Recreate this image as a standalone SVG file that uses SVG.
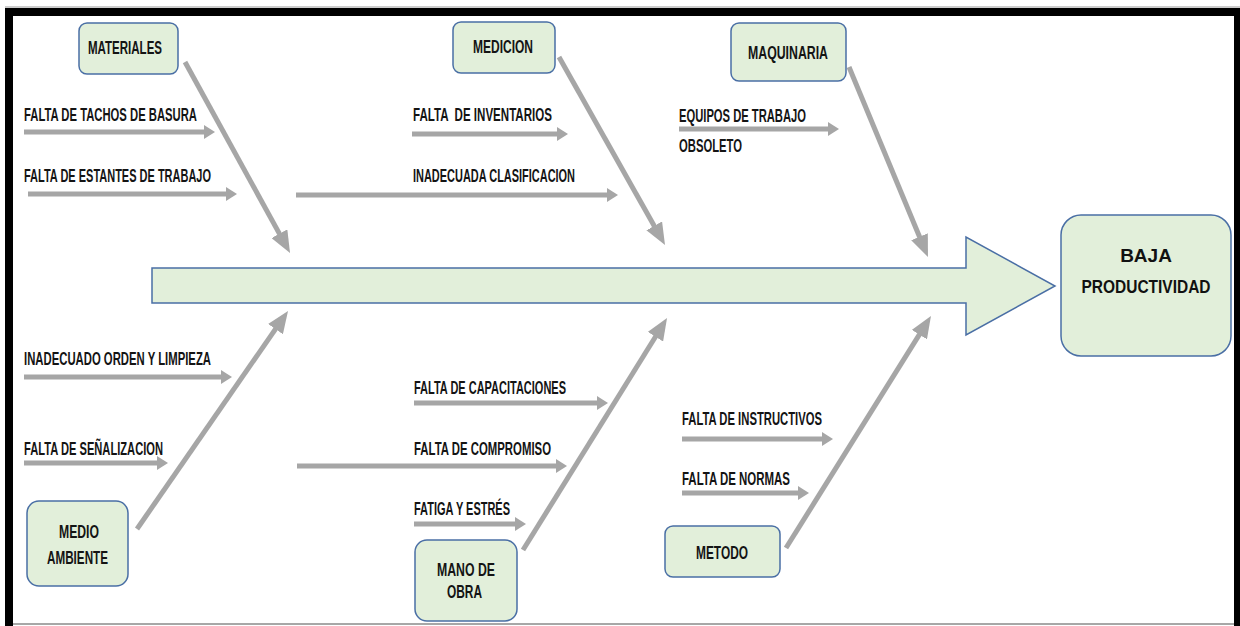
<svg xmlns="http://www.w3.org/2000/svg" width="1240" height="626" viewBox="0 0 1240 626">
  <style>
    .box { fill: #e2efda; stroke: #4a6fa5; stroke-width: 1.5; }
    .spine { fill: #e2efda; stroke: #4a6fa5; stroke-width: 1.5; stroke-linejoin: miter; }
    .bone { stroke: #a6a6a6; stroke-width: 5; fill: none; }
    .lbl { font-family: "Liberation Sans Narrow", "Liberation Sans", Arial, sans-serif; font-size: 19px; font-weight: bold; fill: #141414; }
    .cause { font-family: "Liberation Sans Narrow", "Liberation Sans", Arial, sans-serif; font-size: 19px; font-weight: bold; fill: #141414; }
    .effect { font-family: "Liberation Sans", Arial, sans-serif; font-size: 19px; font-weight: bold; fill: #111; }
  </style>
  <defs>
    <marker id="headBig" viewBox="0 0 22 18" refX="13" refY="9" markerWidth="22" markerHeight="18" markerUnits="userSpaceOnUse" orient="auto">
      <path d="M0,0 L22,9 L0,18 z" fill="#a6a6a6"/>
    </marker>
    <marker id="headSmall" viewBox="0 0 11 14" refX="6" refY="7" markerWidth="11" markerHeight="14" markerUnits="userSpaceOnUse" orient="auto">
      <path d="M0,0 L11,7 L0,14 z" fill="#a6a6a6"/>
    </marker>
  </defs>

  <!-- page background and frame -->
  <rect x="0" y="0" width="1240" height="626" fill="#ffffff"/>
  <g id="frame">
    <line x1="5" y1="7" x2="1240" y2="7" stroke="#9a9a9a" stroke-width="1"/>
    <rect x="5" y="8" width="1235" height="8" fill="#000"/>
    <rect x="5" y="8" width="8" height="618" fill="#000"/>
    <rect x="1234" y="8" width="6" height="618" fill="#000"/>
    <line x1="13" y1="624" x2="1234" y2="624" stroke="#8a8a8a" stroke-width="1.5"/>
  </g>

  <!-- main spine -->
  <g id="spine">
    <polygon class="spine" points="152,268 966,268 966,237 1055,286 966,335 966,303 152,303"/>
  </g>

  <!-- connectors: category bones and cause arrows -->
  <g id="connectors">
    <line class="bone" x1="185" y1="62" x2="285.7" y2="245.1" marker-end="url(#headBig)"/>
    <line class="bone" x1="559" y1="57" x2="660.6" y2="237.2" marker-end="url(#headBig)"/>
    <line class="bone" x1="849" y1="67" x2="924.5" y2="248.7" marker-end="url(#headBig)"/>
    <line class="bone" x1="137" y1="529" x2="282.9" y2="318.4" marker-end="url(#headBig)"/>
    <line class="bone" x1="523" y1="550" x2="662.3" y2="325.7" marker-end="url(#headBig)"/>
    <line class="bone" x1="786" y1="548" x2="926.2" y2="323.6" marker-end="url(#headBig)"/>

    <line class="bone" x1="24" y1="132" x2="210" y2="132" marker-end="url(#headSmall)"/>
    <line class="bone" x1="28" y1="194" x2="232" y2="194" marker-end="url(#headSmall)"/>
    <line class="bone" x1="412" y1="134" x2="563" y2="134" marker-end="url(#headSmall)"/>
    <line class="bone" x1="296" y1="195" x2="613" y2="195" marker-end="url(#headSmall)"/>
    <line class="bone" x1="679" y1="129" x2="834" y2="129" marker-end="url(#headSmall)"/>
    <line class="bone" x1="24" y1="377" x2="227" y2="377" marker-end="url(#headSmall)"/>
    <line class="bone" x1="24" y1="463" x2="163" y2="463" marker-end="url(#headSmall)"/>
    <line class="bone" x1="414" y1="403" x2="603" y2="403" marker-end="url(#headSmall)"/>
    <line class="bone" x1="297" y1="466" x2="562" y2="466" marker-end="url(#headSmall)"/>
    <line class="bone" x1="414" y1="524" x2="521" y2="524" marker-end="url(#headSmall)"/>
    <line class="bone" x1="682" y1="439" x2="828" y2="439" marker-end="url(#headSmall)"/>
    <line class="bone" x1="682" y1="493" x2="804" y2="493" marker-end="url(#headSmall)"/>
  </g>

  <!-- cause labels -->
  <g id="causes">
    <text class="cause" x="24" y="121" textLength="173" lengthAdjust="spacingAndGlyphs">FALTA DE TACHOS DE BASURA</text>
    <text class="cause" x="24" y="182" textLength="187" lengthAdjust="spacingAndGlyphs">FALTA DE ESTANTES DE TRABAJO</text>
    <text class="cause" x="413" y="121" textLength="139" lengthAdjust="spacingAndGlyphs" xml:space="preserve">FALTA  DE INVENTARIOS</text>
    <text class="cause" x="413" y="182" textLength="162" lengthAdjust="spacingAndGlyphs">INADECUADA CLASIFICACION</text>
    <text class="cause" x="679" y="122" textLength="127" lengthAdjust="spacingAndGlyphs">EQUIPOS DE TRABAJO</text>
    <text class="cause" x="679" y="152" textLength="63" lengthAdjust="spacingAndGlyphs">OBSOLETO</text>
    <text class="cause" x="24" y="365" textLength="187" lengthAdjust="spacingAndGlyphs">INADECUADO ORDEN Y LIMPIEZA</text>
    <text class="cause" x="24" y="455" textLength="139" lengthAdjust="spacingAndGlyphs">FALTA DE SEÑALIZACION</text>
    <text class="cause" x="414" y="394" textLength="152" lengthAdjust="spacingAndGlyphs">FALTA DE CAPACITACIONES</text>
    <text class="cause" x="414" y="455" textLength="137" lengthAdjust="spacingAndGlyphs">FALTA DE COMPROMISO</text>
    <text class="cause" x="414" y="515" textLength="96" lengthAdjust="spacingAndGlyphs">FATIGA Y ESTRÉS</text>
    <text class="cause" x="682" y="425" textLength="140" lengthAdjust="spacingAndGlyphs">FALTA DE INSTRUCTIVOS</text>
    <text class="cause" x="682" y="485" textLength="108" lengthAdjust="spacingAndGlyphs">FALTA DE NORMAS</text>
  </g>

  <!-- category nodes -->
  <g id="materiales">
    <rect class="box" x="79" y="23" width="99" height="51" rx="8"/>
    <text class="lbl" x="88" y="54" textLength="74" lengthAdjust="spacingAndGlyphs">MATERIALES</text>
  </g>
  <g id="medicion">
    <rect class="box" x="453" y="22" width="102" height="51" rx="8"/>
    <text class="lbl" x="473" y="53" textLength="60" lengthAdjust="spacingAndGlyphs">MEDICION</text>
  </g>
  <g id="maquinaria">
    <rect class="box" x="731" y="23" width="115" height="58" rx="8"/>
    <text class="lbl" x="748" y="59" textLength="80" lengthAdjust="spacingAndGlyphs">MAQUINARIA</text>
  </g>
  <g id="medio-ambiente">
    <rect class="box" x="27" y="501" width="101" height="85" rx="12"/>
    <text class="lbl" x="59" y="538" textLength="40" lengthAdjust="spacingAndGlyphs">MEDIO</text>
    <text class="lbl" x="47" y="564" textLength="61" lengthAdjust="spacingAndGlyphs">AMBIENTE</text>
  </g>
  <g id="mano-de-obra">
    <rect class="box" x="415" y="540" width="102" height="81" rx="12"/>
    <text class="lbl" x="437" y="576" textLength="58" lengthAdjust="spacingAndGlyphs">MANO DE</text>
    <text class="lbl" x="447" y="598" textLength="35" lengthAdjust="spacingAndGlyphs">OBRA</text>
  </g>
  <g id="metodo">
    <rect class="box" x="665" y="526" width="115" height="51" rx="8"/>
    <text class="lbl" x="696" y="559" textLength="52" lengthAdjust="spacingAndGlyphs">METODO</text>
  </g>

  <!-- effect node -->
  <g id="baja-productividad">
    <rect class="box" x="1061" y="215" width="170" height="141" rx="20"/>
    <text class="effect" x="1146" y="262" text-anchor="middle">BAJA</text>
    <text class="effect" x="1146" y="293" text-anchor="middle" textLength="129" lengthAdjust="spacingAndGlyphs">PRODUCTIVIDAD</text>
  </g>
</svg>
